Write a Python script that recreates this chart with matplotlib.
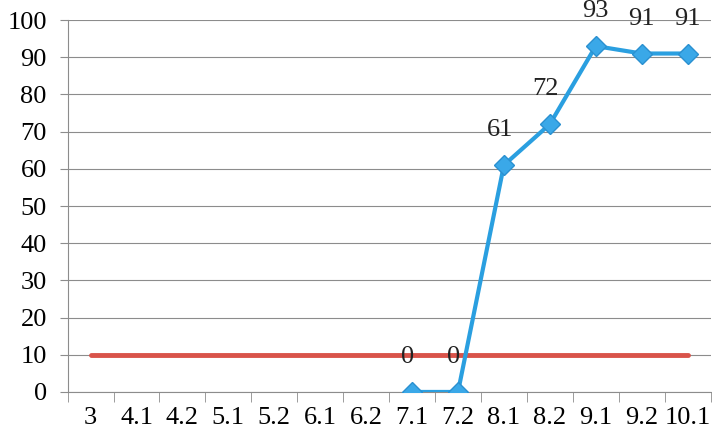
import matplotlib
matplotlib.use("Agg")
import matplotlib.pyplot as plt
import numpy as np

# categories on the x axis
categories = ["3", "4.1", "4.2", "5.1", "5.2", "6.1", "6.2",
              "7.1", "7.2", "8.1", "8.2", "9.1", "9.2", "10.1"]

# blue series only starts at 7.1
blue_cats = ["7.1", "7.2", "8.1", "8.2", "9.1", "9.2", "10.1"]
blue_vals = [0, 0, 61, 72, 93, 91, 91]

# red reference line
red_vals = [10] * len(categories)

plt.rcParams['font.family'] = ['Liberation Serif', 'DejaVu Serif']

fig = plt.figure(figsize=(7.12, 4.36), dpi=100)
ax = fig.add_axes([0.095, 0.101, 0.903, 0.853])

x_all = np.arange(len(categories))
x_blue = np.array([categories.index(c) for c in blue_cats])

# gridlines
ax.set_ylim(0, 100)
ax.set_yticks(range(0, 101, 10))
ax.yaxis.grid(True, color="#8c8c8c", linewidth=0.8)
ax.set_axisbelow(True)

ax.plot(x_all, red_vals, color="#d9534a", linewidth=3.5, solid_capstyle="round", zorder=3)
ax.plot(x_blue, blue_vals, color="#2a9fe0", linewidth=3, marker="D", markersize=10,
        markerfacecolor="#3aa8e8", markeredgecolor="#2a90d0", zorder=4)

for xi, v in zip(x_blue, blue_vals):
    ax.annotate(str(v), (xi, v), textcoords="offset points", xytext=(-3 if v < 80 else 0, 25),
                ha="center", va="center", fontsize=19, color="#222222")

ax.set_xlim(-0.5, len(categories) - 0.5)
ax.set_xticks(x_all)
ax.set_xticklabels(categories, fontsize=19)
ax.set_xticks(np.arange(-0.5, len(categories), 1), minor=True)
ax.tick_params(axis="x", which="major", length=0, pad=11)
ax.tick_params(axis="x", which="minor", length=7, color="#8c8c8c")
ax.tick_params(axis="y", length=6, color="#8c8c8c", labelsize=19, pad=9)

for side in ["top", "right"]:
    ax.spines[side].set_visible(False)
ax.spines["left"].set_color("#8c8c8c")
ax.spines["bottom"].set_color("#8c8c8c")

fig.savefig("out.png", dpi=100)
